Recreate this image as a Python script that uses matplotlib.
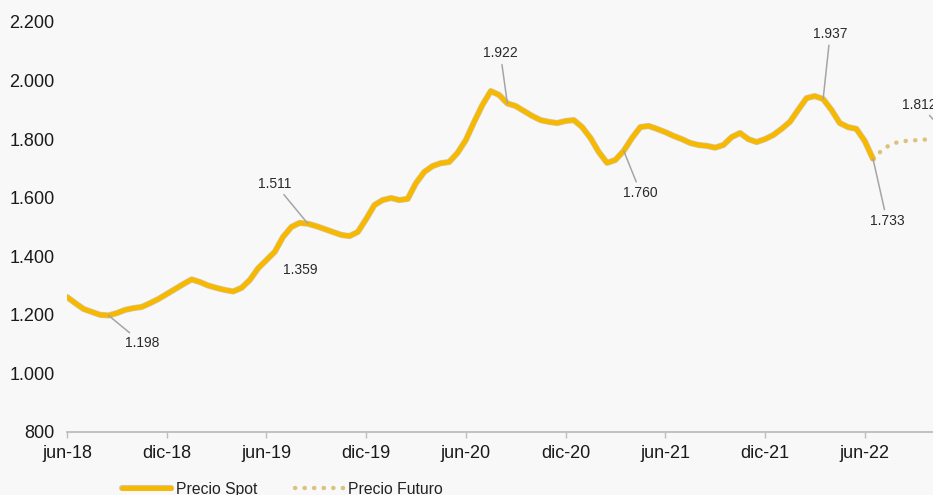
import numpy as np
import matplotlib
matplotlib.use("Agg")
import matplotlib.pyplot as plt
import matplotlib.patheffects as pe
from matplotlib.ticker import FuncFormatter

plt.rcParams['font.family'] = ['Liberation Sans', 'DejaVu Sans']

# precio spot, cada media mes desde jun-18 hasta jul-22
spot = [1261, 1240, 1220, 1210, 1200, 1198, 1206, 1217, 1223, 1227,
        1240, 1254, 1271, 1288, 1305, 1321, 1312, 1300, 1292, 1285,
        1280, 1292, 1319, 1359, 1387, 1415, 1466, 1500, 1514, 1511,
        1503, 1493, 1483, 1473, 1469, 1483, 1527, 1575, 1592, 1599,
        1592, 1596, 1650, 1688, 1708, 1718, 1722, 1753, 1797, 1859,
        1917, 1964, 1951, 1922, 1913, 1896, 1879, 1865, 1859, 1855,
        1862, 1865, 1841, 1804, 1756, 1719, 1729, 1760, 1804, 1841,
        1845, 1835, 1824, 1811, 1800, 1787, 1780, 1777, 1771, 1780,
        1807, 1821, 1800, 1790, 1800, 1814, 1835, 1859, 1900, 1940,
        1947, 1937, 1900, 1855, 1841, 1835, 1794, 1733]
# precio futuro, sigue desde el ultimo spot
futuro = [1733, 1760, 1780, 1790, 1794, 1796, 1798, 1800, 1805, 1812, 1815, 1818]

tick_labels = ['jun-18', 'dic-18', 'jun-19', 'dic-19', 'jun-20',
               'dic-20', 'jun-21', 'dic-21', 'jun-22']

# etiquetas: (indice, serie, texto)
etiquetas = [(5, 's', '1.198'), (23, 's', '1.359'), (29, 's', '1.511'),
             (53, 's', '1.922'), (67, 's', '1.760'), (91, 's', '1.937'),
             (97, 's', '1.733'), (106, 'f', '1.812')]
offsets = {'1.198': (34, -28), '1.359': (42, -2), '1.511': (-33, 40),
           '1.922': (-7, 50), '1.760': (17, -42), '1.937': (7, 65),
           '1.733': (14, -62), '1.812': (-28, 31)}

bg = '#f8f8f8'
fig = plt.figure(figsize=(9.33, 4.95), dpi=100, facecolor=bg)
ax = fig.add_axes([67/933, 63/495, 914/933, 410/495], facecolor=bg)

x_spot = np.arange(len(spot)) / 2.0
x_fut = (len(spot) - 1 + np.arange(len(futuro))) / 2.0

ax.plot(x_fut, futuro, color='#dcc27f', lw=3.2, linestyle=(0, (0.05, 2.1)),
        dash_capstyle='round', label='Precio Futuro', zorder=2)
ax.plot(x_spot, spot, color='#f6b900', lw=3.4, solid_capstyle='round',
        solid_joinstyle='round', label='Precio Spot', zorder=3,
        path_effects=[pe.Stroke(linewidth=4.4, foreground='#c8b07a', alpha=0.7),
                      pe.Normal()])

for idx, serie, txt in etiquetas:
    if serie == 's':
        xy = (x_spot[idx], spot[idx])
    else:
        xy = ((len(spot) - 1 + idx - 97) / 2.0, futuro[idx - 97])
    ap = None if txt == '1.359' else dict(arrowstyle='-', color='#a5a5a5', lw=1.1,
                                          shrinkA=1, shrinkB=0)
    ax.annotate(txt, xy=xy, xytext=offsets[txt], textcoords='offset pixels',
                ha='center', va='center', fontsize=10, color='#2a2a2a',
                arrowprops=ap, annotation_clip=False, zorder=4)

ax.set_xlim(0, 55)
ax.set_ylim(800, 2200)
ax.set_yticks(np.arange(800, 2201, 200))
ax.yaxis.set_major_formatter(FuncFormatter(lambda v, p: f'{int(v):,}'.replace(',', '.')))
ax.set_xticks(np.arange(0, 49, 6))
ax.set_xticklabels(tick_labels)

for s in ['top', 'right', 'left']:
    ax.spines[s].set_visible(False)
ax.spines['bottom'].set_color('#bdbdbd')
ax.spines['bottom'].set_linewidth(1.3)
ax.tick_params(axis='y', length=0, pad=9, labelsize=13, labelcolor='#1a1a1a')
ax.tick_params(axis='x', length=4, width=1, color='#bdbdbd', pad=5,
               labelsize=13, labelcolor='#1a1a1a')

h, l = ax.get_legend_handles_labels()
fig.legend(h[::-1], l[::-1], loc='center left', bbox_to_anchor=(0.131, 0.012),
           ncol=2, frameon=False, fontsize=11.3, handlelength=3.1,
           handletextpad=0.3, columnspacing=2.4, labelcolor='#222222',
           borderaxespad=0, borderpad=0)

fig.savefig('out.png', dpi=100, facecolor=bg)
